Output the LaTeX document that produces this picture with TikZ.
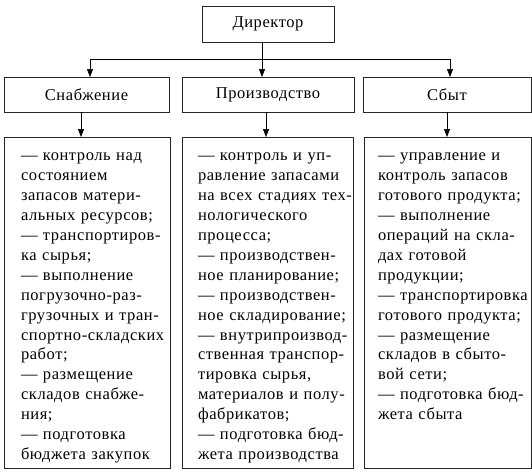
\documentclass[tikz,border=0pt]{standalone}
\usepackage{fontspec}
\setmainfont[LetterSpace=3.5]{Liberation Serif}
\usetikzlibrary{arrows.meta,calc}
\tikzset{
  box/.style={draw=black!85, line width=0.8pt, rectangle, inner sep=0pt, outer sep=0pt},
  title/.style={box, font=\fontsize{16.5}{20}\selectfont},
  body/.style={anchor=north west, inner sep=0pt, outer sep=0pt, text width=170pt, align=left,
    font=\fontsize{16.5}{19.9}\selectfont},
  conn/.style={line width=0.7pt, black},
  arr/.style={conn, -{Triangle[length=8pt,width=6pt]}}
}
\begin{document}
\begin{tikzpicture}[x=1pt,y=-1pt]
\useasboundingbox (0,0) rectangle (532,472);
% top
\node[title, minimum width=132pt, minimum height=36pt] (dir) at (268,24) {Директор};
% second row
\node[title, minimum width=165pt, minimum height=35pt] (snab) at (86.5,94.5) {Снабжение};
\node[title, minimum width=172pt, minimum height=35pt] (proi) at (268,94.5) {Производство};
\node[title, minimum width=168pt, minimum height=35pt] (sbyt) at (447,94.5) {Сбыт};
% third row boxes
\node[box, minimum width=166pt, minimum height=331pt] (b1) at (87,302.5) {};
\node[box, minimum width=171pt, minimum height=331pt] (b2) at (267.5,302.5) {};
\node[box, minimum width=167pt, minimum height=331pt] (b3) at (447.5,302.5) {};
% texts
\node[body] (t1) at (21,147) {\strut— контроль над\\
состоянием\\
запасов матери-\\
альных ресурсов;\\
— транспортиров-\\
ка сырья;\\
— выполнение\\
погрузочно-раз-\\
грузочных и  тран-\\
спортно-складских\\
работ;\\
— размещение\\
складов снабже-\\
ния;\\
— подготовка\\
бюджета закупок};
\node[body] (t2) at (198,147) {\strut— контроль и уп-\\
равление запасами\\
на всех стадиях тех-\\
нологического\\
процесса;\\
— производствен-\\
ное планирование;\\
— производствен-\\
ное складирование;\\
— внутрипроизвод-\\
ственная транспор-\\
тировка сырья,\\
материалов и  полу-\\
фабрикатов;\\
— подготовка бюд-\\
жета производства};
\node[body] (t3) at (378,147) {\strut— управление и\\
контроль запасов\\
готового продукта;\\
— выполнение\\
операций на скла-\\
дах готовой\\
продукции;\\
— транспортировка\\
готового продукта;\\
— размещение\\
складов в сбыто-\\
вой сети;\\
— подготовка бюд-\\
жета сбыта};
% connectors
\coordinate (jL) at (90,59);
\coordinate (jM) at (262,59);
\coordinate (jR) at (450,59);
\draw[conn] ([xshift=-6pt]dir.south) -- (jM);
\draw[conn] (jL) -- (jR);
\draw[arr] (jL) -- (jL |- snab.north);
\draw[arr] (jM) -- (jM |- proi.north);
\draw[arr] (jR) -- (jR |- sbyt.north);
\draw[arr] ([xshift=-5.5pt]snab.south) -- ([xshift=-5.5pt]snab.south |- b1.north);
\draw[arr] ([xshift=-2pt]proi.south) -- ([xshift=-2pt]proi.south |- b2.north);
\draw[arr] (sbyt.south) -- (sbyt.south |- b3.north);
\end{tikzpicture}
\end{document}
